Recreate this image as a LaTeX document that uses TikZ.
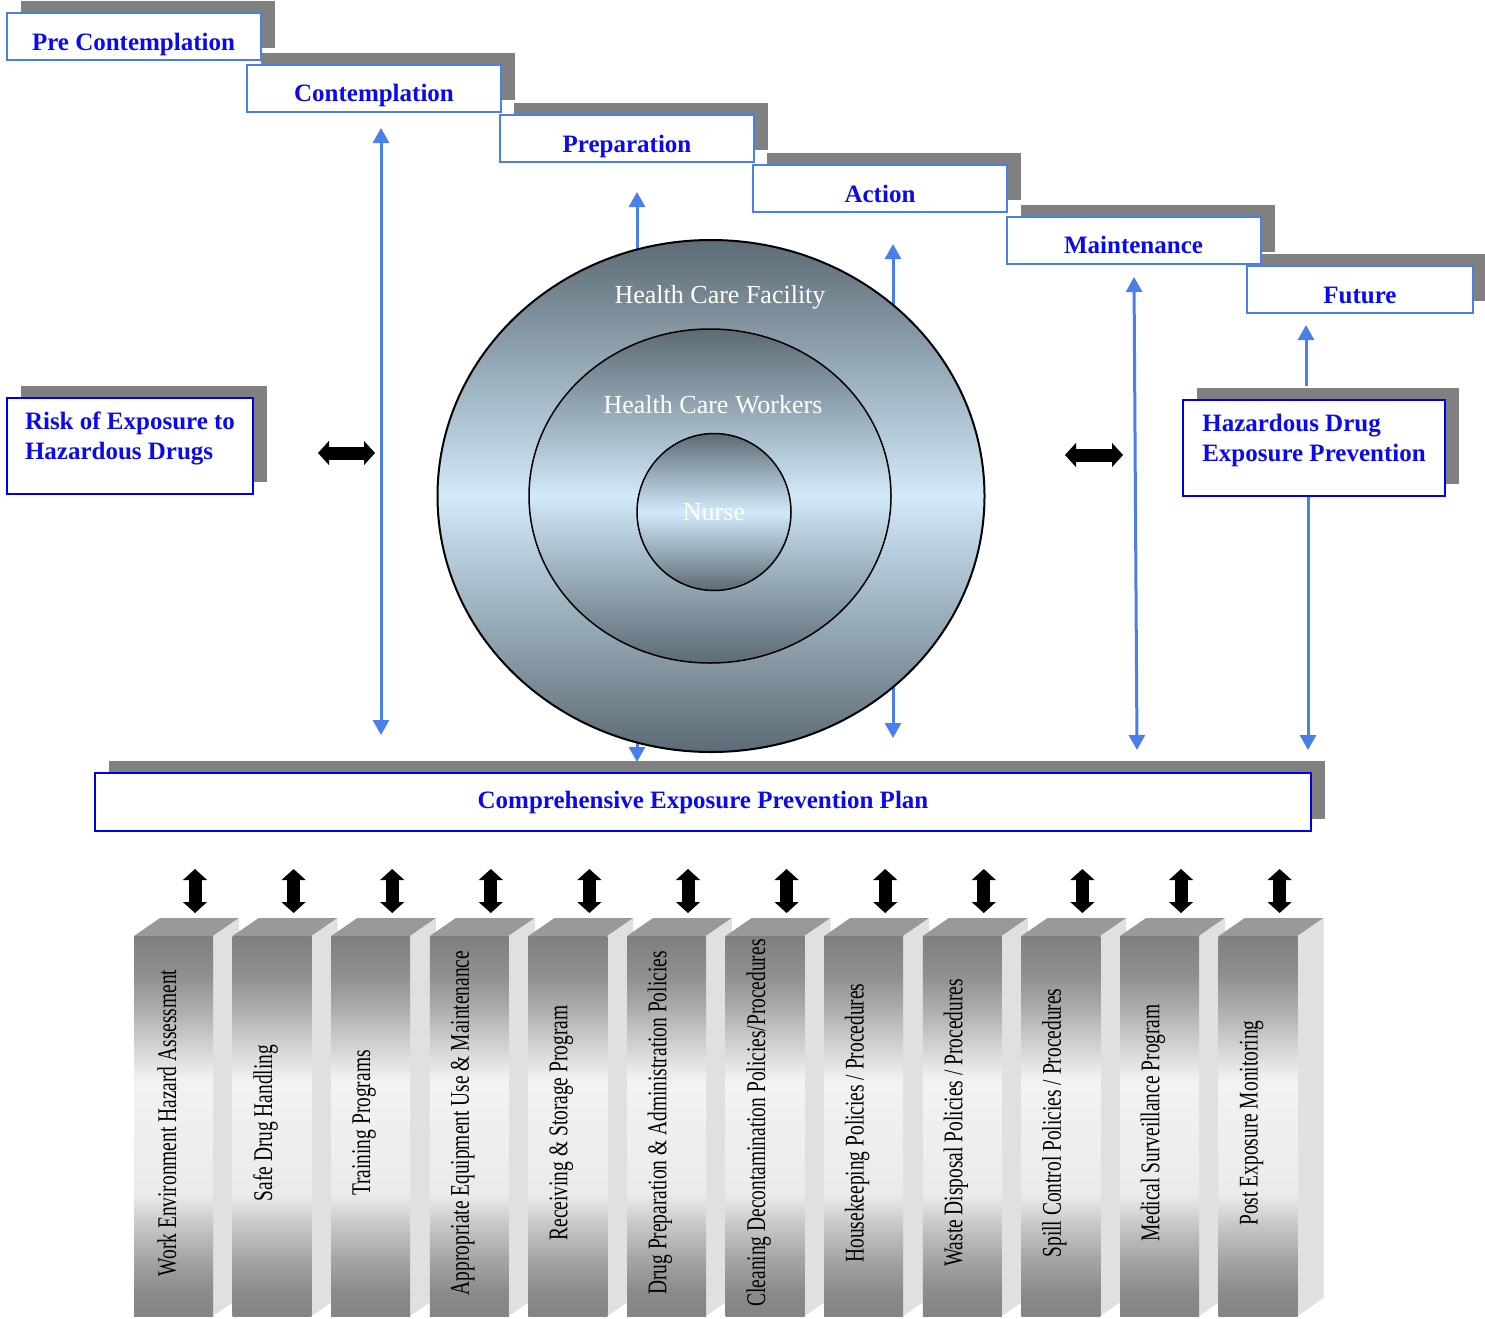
\documentclass[tikz,border=0pt]{standalone}
\usepackage{fontspec}
\setmainfont{Liberation Serif}
\newfontfamily\pillarfont[FakeStretch=0.72]{Liberation Serif}
\usetikzlibrary{arrows.meta,shapes.geometric,shadows}
\definecolor{stageblue}{HTML}{4A7EEB}
\definecolor{txtblue}{HTML}{0A0AF0}
\definecolor{boxblue}{HTML}{0000F0}
\definecolor{shadowgray}{HTML}{808080}
\definecolor{slate}{HTML}{5C6B75}
\definecolor{paleblue}{HTML}{D2E9F9}
\pgfdeclareverticalshading{pillar}{100bp}{color(0bp)=(black!48); color(25bp)=(black!48);
  color(28bp)=(black!46); color(33bp)=(black!34); color(37bp)=(black!22);
  color(41bp)=(black!8); color(56bp)=(black!5); color(61bp)=(black!19);
  color(66bp)=(black!34); color(70bp)=(black!44); color(75bp)=(black!50); color(100bp)=(black!50)}
\newcommand{\lowstrut}{\rule[-20pt]{0pt}{0pt}}

\begin{document}
\begin{tikzpicture}[x=1pt,y=-1pt,>=Latex,
  stg/.style={draw=stageblue,line width=2pt,fill=white,minimum width=254pt,
    minimum height=47pt,inner sep=0pt,text=txtblue,text height=29pt,text depth=2pt,
    font=\fontsize{25}{30}\selectfont\bfseries,
    drop shadow={shadow xshift=14pt,shadow yshift=12pt,fill=shadowgray,opacity=1}},
  hz/.style={draw=boxblue,line width=2pt,fill=white,align=left,inner xsep=0pt,
    minimum height=96pt,text=txtblue,font=\fontsize{25}{30}\selectfont\bfseries,
    drop shadow={shadow xshift=14pt,shadow yshift=12pt,fill=shadowgray,opacity=1}},
  ring/.style={ellipse,draw=black,inner sep=0pt,top color=slate,bottom color=slate,
    middle color=paleblue},
  rt/.style={text=white,font=\fontsize{26}{30}\selectfont},
  ba/.style={{Triangle[width=16pt,length=15pt]}-{Triangle[width=16pt,length=15pt]},
    line width=3pt,stageblue},
  ua/.style={arrows={-Triangle[width=16pt,length=15pt]},line width=3pt,stageblue},
  bk/.style={{Triangle[width=24pt,length=11pt,line width=1pt]}-{Triangle[width=24pt,length=11pt,line width=1pt]},
    line width=13pt,black},
  ptxt/.style={rotate=90,font=\pillarfont\fontsize{27}{30}\selectfont,inner sep=0pt}]
\useasboundingbox (0,0) rectangle (1485,1318);

% stages of change
\node[stg] (pre) at (133.5,36.5) {Pre Contemplation};
\node[stg] (contemp) at (374,88) {Contemplation};
\node[stg] (prep) at (627,138.5) {Preparation};
\node[stg] (action) at (880,188.5) {Action};
\node[stg] (maint) at (1133.5,240) {Maintenance};
\node[stg,minimum width=226pt] (future) at (1360,289.5) {Future};

% arrows passing behind the rings
\coordinate (a2t) at (637,192); \coordinate (a2b) at (637,762);
\coordinate (a3t) at (893,244); \coordinate (a3b) at (893,738);
\draw[ba] (a2t) -- (a2b);
\draw[ba] (a3t) -- (a3b);

% rings
\node[ring,line width=2pt,minimum width=547pt,minimum height=512pt] (fac) at (711,496) {};
\node[ring,line width=1.5pt,minimum width=362pt,minimum height=334pt] (wrk) at (710,496) {};
\node[ring,line width=1.5pt,minimum width=154pt,minimum height=157pt,rt] (nurse) at (714,512) {Nurse};
\node[rt] (factxt) at (720,297) {Health Care Facility};
\node[rt] (wrktxt) at (713,405) {Health Care Workers};

\node[hz,minimum width=246pt] (risk) at (130,446) {Risk of Exposure to\\Hazardous Drugs\lowstrut};
\node[hz,minimum width=262pt] (hdep) at (1314,448) {Hazardous Drug\\Exposure Prevention\lowstrut};
\node[hz,minimum width=1216pt,minimum height=58pt,align=center] (plan) at (703,802)
  {Comprehensive Exposure Prevention Plan};

\coordinate (a1t) at (381,128); \coordinate (a1b) at (381,735);
\coordinate (a4t) at (1134,277); \coordinate (a4b) at (1137,750);
\coordinate (a5t) at (1306,325); \coordinate (a6b) at (1308,750);
\draw[ba] (a1t) -- (a1b);
\draw[ba] (a4t) -- (a4b);
\draw[ua] ([xshift=-8pt,yshift=13pt]hdep.north) -- (a5t);
\draw[ua] ([xshift=-6pt]hdep.south) -- (a6b);

\coordinate (l1) at (318,453); \coordinate (l2) at (375,453);
\coordinate (r1) at (1065,455); \coordinate (r2) at (1123,455);
\draw[bk] (l1) -- (l2);
\draw[bk] (r1) -- (r2);

% pillars
\foreach \t [count=\i from 0] in {Work Environment Hazard Assessment, Safe Drug Handling,
  Training Programs, Appropriate Equipment Use \& Maintenance, Receiving \& Storage Program,
  Drug Preparation \& Administration Policies, Cleaning Decontamination Policies/Procedures,
  Housekeeping Policies / Procedures, Waste Disposal Policies / Procedures,
  Spill Control Policies / Procedures, Medical Surveillance Program, Post Exposure Monitoring}{
  \pgfmathsetmacro\px{134+98.6*\i}
  \fill[black!40] (\px,936) -- ++(26,-18) -- ++(79,0) -- ++(-26,18) -- cycle;
  \fill[black!12] (\px+79,936) -- ++(26,-18) -- ++(0,380) -- ++(-26,18) -- cycle;
  \shade[shading=pillar] (\px,936) rectangle ++(79,380);
  \node[ptxt] (p\i) at (\px+33,1123) {\t};
  \coordinate (u\i) at (\px+61,869); \coordinate (d\i) at (\px+61,913);
  \draw[bk] (u\i) -- (d\i);
}
\end{tikzpicture}
\end{document}
